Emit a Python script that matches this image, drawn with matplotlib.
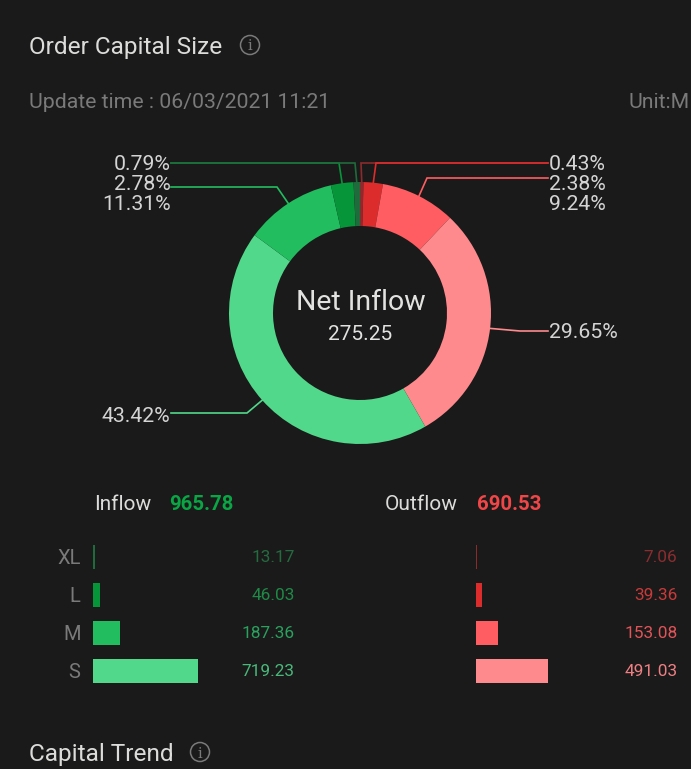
import math
import matplotlib
matplotlib.use("Agg")
import matplotlib.pyplot as plt
from matplotlib.patches import Circle

plt.rcParams['font.family'] = ['Roboto', 'DejaVu Sans']

W, H = 691, 769
BG = '#1a1a1a'

# Data
pie_labels = ['0.43%', '2.38%', '9.24%', '29.65%', '43.42%', '11.31%', '2.78%', '0.79%']
pie_values = [0.43, 2.38, 9.24, 29.65, 43.42, 11.31, 2.78, 0.79]
pie_colors = ['#8c2b2d', '#dc2c2c', '#ff5d61', '#ff8a8d', '#52d88a', '#22bd5f', '#07953a', '#1f6b3c']
categories = ['XL', 'L', 'M', 'S']
inflow = [13.17, 46.03, 187.36, 719.23]
outflow = [7.06, 39.36, 153.08, 491.03]
in_bar_colors = ['#1f6b3c', '#07953a', '#22bd5f', '#52d88a']
out_bar_colors = ['#8c2b2d', '#dc2c2c', '#ff5d61', '#ff8a8d']
in_text_colors = ['#256b40', '#1f8a47', '#2ba15e', '#49b87a']
out_text_colors = ['#8a2d2f', '#c93a3a', '#e25458', '#ee8084']
net_inflow = '275.25'
total_in = '965.78'
total_out = '690.53'

fig = plt.figure(figsize=(W / 100, H / 100), dpi=100, facecolor=BG)

# Pixel-coordinate overlay for text and leader lines
ov = fig.add_axes([0, 0, 1, 1], zorder=3)
ov.set_xlim(0, W)
ov.set_ylim(H, 0)
ov.axis('off')


def px_axes(x0, y0, x1, y1, **kw):
    return fig.add_axes([x0 / W, 1 - y1 / H, (x1 - x0) / W, (y1 - y0) / H], **kw)


# Donut
CX, CY, R = 360, 313, 131
pa = px_axes(CX - R, CY - R, CX + R, CY + R, zorder=2)
pa.pie(pie_values, colors=pie_colors, startangle=90, counterclock=False, radius=1,
       wedgeprops=dict(width=44 / 131, linewidth=0))
pa.set_xlim(-1, 1)
pa.set_ylim(-1, 1)
pa.axis('off')

# Leader lines: (label row y, elbow x, label anchor x, side)
leaders = [
    (163, 361, 548, 'r'),
    (163, 376, 548, 'r'),
    (178, 427, 548, 'r'),
    (331, 520, 548, 'r'),
    (413, 247, 171, 'l'),
    (187, 277, 171, 'l'),
    (163, 339, 171, 'l'),
    (163, 355, 171, 'l'),
]
label_y = [163, 183, 202, 331, 414, 202, 183, 163]
cum = 0
total = sum(pie_values)
for i, v in enumerate(pie_values):
    mid = (cum + v / 2) / total * 2 * math.pi
    cum += v
    ax_, ay_ = CX + R * math.sin(mid), CY - R * math.cos(mid)
    ly, ex, lx, side = leaders[i]
    col = pie_colors[i]
    ov.plot([lx, ex, ax_], [ly, ly, ay_], color=col, lw=1.2, solid_joinstyle='miter')
    ha = 'left' if side == 'r' else 'right'
    tx = 549 if side == 'r' else 170.5
    ov.text(tx, label_y[i], pie_labels[i], color='#d4d4d4', fontsize=15.3,
            ha=ha, va='center_baseline')

ov.text(CX + 1, 300, 'Net Inflow', color='#e2e2e0', fontsize=20.5, ha='center', va='center_baseline')
ov.text(CX, 332, net_inflow, color='#e2e2e0', fontsize=15, ha='center', va='center_baseline')

# Headings
ov.text(29, 45, 'Order Capital Size', color='#dcdcda', fontsize=17.6, ha='left', va='center_baseline')
ov.text(29, 752, 'Capital Trend', color='#dcdcda', fontsize=17.6, ha='left', va='center_baseline')
ov.text(29, 100, 'Update time : 06/03/2021 11:21', color='#7a7a7a', fontsize=15.3,
        ha='left', va='center_baseline')
ov.text(629, 100, 'Unit:M', color='#7a7a7a', fontsize=15.3, ha='left', va='center_baseline')

# Info icons
for ix, iy in [(250, 45), (200, 752)]:
    ov.add_patch(Circle((ix, iy), 9.5, fill=False, ec='#7a7a7a', lw=1.1))
    ov.text(ix, iy, 'i', color='#7a7a7a', fontsize=10.5, ha='center', va='center_baseline', family='DejaVu Serif')

# Inflow / Outflow headings
ov.text(94, 503, 'Inflow', color='#dcdcda', fontsize=15, ha='left', va='center_baseline')
ov.text(169, 503, total_in, color='#0aa544', fontsize=14.7, fontweight='bold', ha='left', va='center_baseline')
ov.text(385, 503, 'Outflow', color='#dcdcda', fontsize=15, ha='left', va='center_baseline')
ov.text(477, 503, total_out, color='#f04648', fontsize=14.7, fontweight='bold', ha='left', va='center_baseline')

# Horizontal bars (both share one scale)
Y0, Y1 = 538, 690
SCALE = 105 / 719.23
rows = [557, 595, 633, 671]
for x0, vals, cols, tcols, tx in [
    (93, inflow, in_bar_colors, in_text_colors, 294.5),
    (476, outflow, out_bar_colors, out_text_colors, 677.5),
]:
    bx = px_axes(x0, Y0, x0 + 150, Y1, zorder=2)
    bx.set_facecolor('none')
    bx.set_xlim(0, 150 / SCALE)
    bx.set_ylim(Y1, Y0)
    bx.axis('off')
    bx.barh(rows, vals, height=24, color=cols, linewidth=0)
    for y, v, c in zip(rows, vals, tcols):
        ov.text(tx, y - 0.5, f'{v:.2f}', color=c, fontsize=12.4, ha='right', va='center_baseline')

for y, c in zip(rows, categories):
    ov.text(80.5, y - 0.5, c, color='#7a7a7a', fontsize=14.5, ha='right', va='center_baseline')

fig.savefig('out.png', dpi=100, facecolor=BG)
